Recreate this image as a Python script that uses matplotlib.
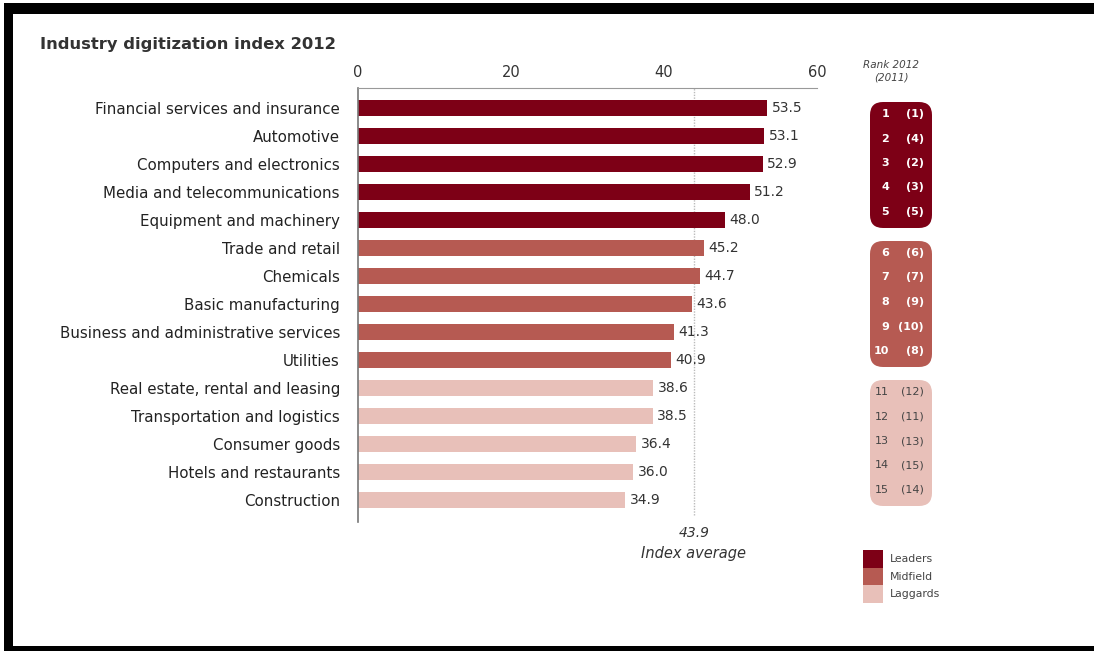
import matplotlib.pyplot as plt
from matplotlib.patches import Rectangle, FancyBboxPatch

plt.rcParams['font.family'] = ['DejaVu Sans']

industries = [
    "Financial services and insurance",
    "Automotive",
    "Computers and electronics",
    "Media and telecommunications",
    "Equipment and machinery",
    "Trade and retail",
    "Chemicals",
    "Basic manufacturing",
    "Business and administrative services",
    "Utilities",
    "Real estate, rental and leasing",
    "Transportation and logistics",
    "Consumer goods",
    "Hotels and restaurants",
    "Construction",
]
index_2012 = [53.5, 53.1, 52.9, 51.2, 48.0, 45.2, 44.7, 43.6, 41.3, 40.9,
              38.6, 38.5, 36.4, 36.0, 34.9]
rank_2011 = [1, 4, 2, 3, 5, 6, 7, 9, 10, 8, 12, 11, 13, 15, 14]
groups = ["Leaders", "Midfield", "Laggards"]
group_of = [0] * 5 + [1] * 5 + [2] * 5
index_average = 43.9
xticks = [0, 20, 40, 60]

colors = ["#7d0016", "#b65a52", "#e8c0b9"]
rank_text = ["white", "white", "#444444"]

W, H = 1094, 651
fig = plt.figure(figsize=(W / 100, H / 100), dpi=100)
fig.patch.set_facecolor("white")


def fx(px):
    return px / W


def fy(py):
    return 1 - py / H


# main bar chart
ax = fig.add_axes([fx(358), fy(522), fx(817) - fx(358), fy(88) - fy(522)])
ypos = list(range(len(industries)))
ax.barh(ypos, index_2012, height=0.58,
        color=[colors[g] for g in group_of], zorder=2)
for y, v in zip(ypos, index_2012):
    ax.text(v + 0.6, y, f"{v:.1f}", va="center", ha="left",
            fontsize=10, color="#333333", zorder=3)

ax.set_xlim(0, 60)
ax.set_ylim(14.79, -0.71)
ax.set_yticks(ypos)
ax.set_yticklabels(industries, fontsize=10.8, color="#222222")
ax.set_xticks(xticks)
ax.xaxis.tick_top()
ax.tick_params(axis="x", length=0, pad=6, labelsize=10.5, labelcolor="#333333")
ax.tick_params(axis="y", length=0, pad=13)
for s in ["right", "bottom"]:
    ax.spines[s].set_visible(False)
ax.spines["top"].set_color("#999999")
ax.spines["left"].set_color("#777777")
ax.spines["left"].set_linewidth(1.2)

ax.axvline(index_average, ymin=0.016, ymax=1, color="#bbbbbb",
           linestyle=(0, (1, 1)), linewidth=1, zorder=1)
ax.text(index_average, 15.2, f"{index_average}", ha="center", va="center",
        fontsize=10, style="italic", color="#333333")
ax.text(index_average, 15.9, "Index average", ha="center", va="center",
        fontsize=10.5, style="italic", color="#333333")

# overlay in pixel coordinates for frame, rank boxes and legend
ov = fig.add_axes([0, 0, 1, 1], facecolor="none")
ov.set_xlim(0, W)
ov.set_ylim(H, 0)
ov.axis("off")

# black frame
ov.add_patch(Rectangle((4, 3), W - 4, 11, color="black", lw=0))
ov.add_patch(Rectangle((4, 3), 9, H - 3, color="black", lw=0))
ov.add_patch(Rectangle((4, 646), W - 4, 5, color="black", lw=0))

fig.text(fx(40), fy(44), "Industry digitization index 2012",
         fontsize=11.8, fontweight="bold", color="#333333", va="center")

ov.text(891, 65, "Rank 2012", ha="center", va="center", fontsize=7.5,
        style="italic", color="#444444")
ov.text(891, 77, "(2011)", ha="center", va="center", fontsize=7.5,
        style="italic", color="#444444")

for g in range(3):
    top = 102 + 139 * g
    ov.add_patch(FancyBboxPatch((870, top), 62, 126, mutation_aspect=1,
                                boxstyle="round,pad=0,rounding_size=13",
                                fc=colors[g], ec="none"))
    members = [i for i in range(len(industries)) if group_of[i] == g]
    for k, i in enumerate(members):
        yy = top + 12 + 24.5 * k
        ov.text(889, yy, f"{i + 1}", ha="right", va="center", fontsize=8,
                color=rank_text[g], fontweight="bold" if g < 2 else "normal")
        ov.text(924, yy, f"({rank_2011[i]})", ha="right", va="center",
                fontsize=8, color=rank_text[g],
                fontweight="bold" if g < 2 else "normal")

# legend
for g, name in enumerate(groups):
    top = 550 + 17.7 * g
    ov.add_patch(Rectangle((863, top), 20, 17.7, color=colors[g], lw=0))
    ov.text(890, top + 9, name, ha="left", va="center", fontsize=7.8,
            color="#444444")

fig.savefig("out.png", dpi=100)
